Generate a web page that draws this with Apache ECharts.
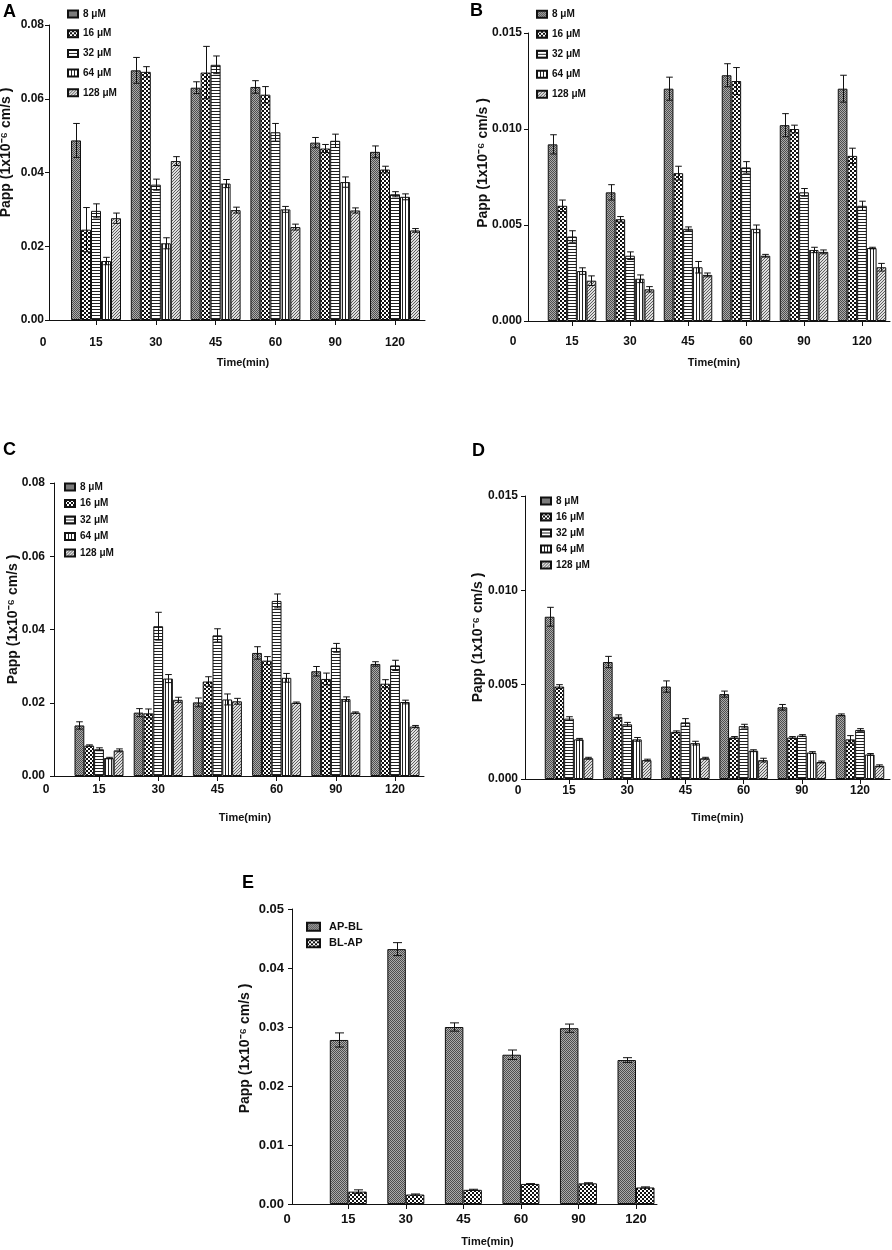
<!DOCTYPE html>
<html>
<head>
<meta charset="utf-8">
<title>Papp panels</title>
<script src="https://cdn.jsdelivr.net/npm/echarts@6/dist/echarts.min.js"></script>
<style>
  html, body { margin: 0; padding: 0; background: #fff; }
  #chart { width: 892px; height: 1250px; }
</style>
</head>
<body>
<div id="chart"></div>
<script>
// ---------------- data ----------------
var times = ['15', '30', '45', '60', '90', '120'];
var xTickLabels = ['0', '15', '30', '45', '60', '90', '120'];
var concNames = ['8 μM', '16 μM', '32 μM', '64 μM', '128 μM'];
var dirNames = ['AP-BL', 'BL-AP'];
var yNameText = 'Papp (1x10⁻⁶ cm/s )';
var xNameText = 'Time(min)';

// panel A : rows = 8,16,32,64,128 uM, columns = times
var meanA = [
  [0.0487, 0.0677, 0.0630, 0.0632, 0.0481, 0.0456],
  [0.0245, 0.0673, 0.0671, 0.0611, 0.0465, 0.0408],
  [0.0296, 0.0367, 0.0692, 0.0509, 0.0486, 0.0341],
  [0.0160, 0.0208, 0.0370, 0.0300, 0.0374, 0.0334],
  [0.0276, 0.0431, 0.0298, 0.0252, 0.0297, 0.0243]
];
var errA = [
  [0.0046, 0.0035, 0.0016, 0.0017, 0.0014, 0.0016],
  [0.0060, 0.0014, 0.0071, 0.0022, 0.0011, 0.0009],
  [0.0019, 0.0015, 0.0024, 0.0024, 0.0018, 0.0007],
  [0.0010, 0.0015, 0.0011, 0.0008, 0.0014, 0.0008],
  [0.0014, 0.0012, 0.0008, 0.0008, 0.0007, 0.0005]
];

// panel B
var meanB = [
  [0.0092, 0.0067, 0.0121, 0.0128, 0.0102, 0.0121],
  [0.0060, 0.0053, 0.0077, 0.0125, 0.0100, 0.0086],
  [0.0044, 0.0034, 0.0048, 0.0080, 0.0067, 0.0060],
  [0.0026, 0.0022, 0.0028, 0.0048, 0.0037, 0.0038],
  [0.0021, 0.00165, 0.0024, 0.0034, 0.0036, 0.0028]
];
var errB = [
  [0.0005, 0.0004, 0.0006, 0.0006, 0.0006, 0.0007],
  [0.0003, 0.00014, 0.00036, 0.0007, 0.0002, 0.0004],
  [0.0003, 0.0002, 0.0001, 0.0003, 0.0002, 0.00024],
  [0.00017, 0.0002, 0.0003, 0.0002, 0.00014, 0.00004],
  [0.00025, 0.00014, 0.0001, 0.00007, 0.0001, 0.0002]
];

// panel C
var meanC = [
  [0.0138, 0.0173, 0.0201, 0.0336, 0.0286, 0.0306],
  [0.0083, 0.0171, 0.0258, 0.0315, 0.0265, 0.0252],
  [0.0073, 0.0409, 0.0384, 0.0478, 0.0350, 0.0302],
  [0.0049, 0.0266, 0.0209, 0.0268, 0.0210, 0.0202],
  [0.0070, 0.0208, 0.0204, 0.0200, 0.0173, 0.0135]
];
var errC = [
  [0.0010, 0.0011, 0.0012, 0.0017, 0.0013, 0.0006],
  [0.0002, 0.0012, 0.0013, 0.0011, 0.0016, 0.0011],
  [0.0004, 0.0038, 0.0018, 0.0019, 0.0012, 0.0014],
  [0.0002, 0.0011, 0.0015, 0.0012, 0.0006, 0.0005],
  [0.0004, 0.0007, 0.0008, 0.0002, 0.0002, 0.0003]
];

// panel D
var meanD = [
  [0.0086, 0.0062, 0.0049, 0.0045, 0.0038, 0.0034],
  [0.0049, 0.0033, 0.0025, 0.0022, 0.0022, 0.0021],
  [0.0032, 0.0029, 0.0030, 0.0028, 0.0023, 0.0026],
  [0.0021, 0.0021, 0.0019, 0.0015, 0.0014, 0.0013],
  [0.0011, 0.0010, 0.0011, 0.0010, 0.0009, 0.0007]
];
var errD = [
  [0.0005, 0.0003, 0.0003, 0.00016, 0.00015, 0.00005],
  [0.0001, 0.0001, 0.00005, 0.00005, 0.00005, 0.0002],
  [0.0001, 0.0001, 0.0002, 0.0001, 0.00005, 0.00007],
  [0.00005, 0.0001, 0.0001, 0.00005, 0.00005, 0.00005],
  [0.00005, 0.00005, 0.00005, 0.0001, 0.00005, 0.00005]
];

// panel E : rows = AP-BL, BL-AP
var meanE = [
  [0.0278, 0.0432, 0.0300, 0.0253, 0.0298, 0.0244],
  [0.0021, 0.0016, 0.0024, 0.0034, 0.0035, 0.0028]
];
var errE = [
  [0.0012, 0.0011, 0.0007, 0.0008, 0.0007, 0.0004],
  [0.0003, 0.0001, 0.0001, 0.00005, 0.0001, 0.0001]
];

// ---------------- styles ----------------
var FONT = "'Liberation Sans', Arial, sans-serif";
var NARROW = "'Liberation Sans Narrow', 'Liberation Sans', Arial, sans-serif";
var INK = '#111';

var concPatterns = ['stipple', 'checker', 'hlines', 'vlines', 'diag'];
var dirPatterns = ['stipple', 'checker'];

// small repeated canvas tiles for the bar fills
function makePattern(kind) {
  var c = document.createElement('canvas');
  var ctx;
  if (kind === 'stipple') {
    c.width = 2; c.height = 2; ctx = c.getContext('2d');
    ctx.fillStyle = '#ababab'; ctx.fillRect(0, 0, 2, 2);
    ctx.fillStyle = '#4e4e4e'; ctx.fillRect(0, 0, 1, 1); ctx.fillRect(1, 1, 1, 1);
  } else if (kind === 'checker') {
    c.width = 4; c.height = 4; ctx = c.getContext('2d');
    ctx.fillStyle = '#fff'; ctx.fillRect(0, 0, 4, 4);
    ctx.fillStyle = '#111'; ctx.fillRect(0, 0, 2, 2); ctx.fillRect(2, 2, 2, 2);
  } else if (kind === 'hlines') {
    c.width = 3; c.height = 3; ctx = c.getContext('2d');
    ctx.fillStyle = '#fff'; ctx.fillRect(0, 0, 3, 3);
    ctx.fillStyle = '#222'; ctx.fillRect(0, 0, 3, 1);
  } else if (kind === 'vlines') {
    c.width = 3; c.height = 3; ctx = c.getContext('2d');
    ctx.fillStyle = '#fff'; ctx.fillRect(0, 0, 3, 3);
    ctx.fillStyle = '#222'; ctx.fillRect(0, 0, 1, 3);
  } else {
    c.width = 3; c.height = 3; ctx = c.getContext('2d');
    ctx.fillStyle = '#dedede'; ctx.fillRect(0, 0, 3, 3);
    ctx.fillStyle = '#5e5e5e';
    ctx.fillRect(0, 2, 1, 1); ctx.fillRect(1, 1, 1, 1); ctx.fillRect(2, 0, 1, 1);
  }
  return { image: c, repeat: 'repeat' };
}

// ---------------- layout of the five panels (pixels) ----------------
var panels = [
  { id: 'A', means: meanA, errs: errA, names: concNames, kinds: concPatterns,
    axisX: 49, firstTick: 96, tickStep: 59.8, right: 425, top: 25, bottom: 320,
    yMax: 0.08, yStep: 0.02, dec: 2, barW: 10, cap: 3.3,
    zeroShift: 6, xLabelMargin: 16, yLabelMargin: 5,
    xNameGap: 36, xNameShift: 6, yNameGap: 36, yNameShift: 20,
    letter: [3, 3], legend: [67, 7.5, 6.7], tickFont: 12, narrowLegend: true },
  { id: 'B', means: meanB, errs: errB, names: concNames, kinds: concPatterns,
    axisX: 528, firstTick: 572, tickStep: 58, right: 890, top: 33, bottom: 321,
    yMax: 0.015, yStep: 0.005, dec: 3, barW: 9.7, cap: 3.3,
    zeroShift: 15, xLabelMargin: 14, yLabelMargin: 6,
    xNameGap: 35, xNameShift: 5, yNameGap: 38, yNameShift: 14,
    letter: [470, 2], legend: [536, 7.8, 7], tickFont: 12, narrowLegend: true },
  { id: 'C', means: meanC, errs: errC, names: concNames, kinds: concPatterns,
    axisX: 54, firstTick: 99, tickStep: 59.2, right: 424, top: 483, bottom: 776,
    yMax: 0.08, yStep: 0.02, dec: 2, barW: 9.8, cap: 3.3,
    zeroShift: 8, xLabelMargin: 7, yLabelMargin: 9,
    xNameGap: 35, xNameShift: 6, yNameGap: 34, yNameShift: 10,
    letter: [3, 441], legend: [64, 480.5, 3.5], tickFont: 12, narrowLegend: true },
  { id: 'D', means: meanD, errs: errD, names: concNames, kinds: concPatterns,
    axisX: 525, firstTick: 569, tickStep: 58.2, right: 890, top: 496, bottom: 779,
    yMax: 0.015, yStep: 0.005, dec: 3, barW: 9.7, cap: 3.3,
    zeroShift: 7, xLabelMargin: 5, yLabelMargin: 7,
    xNameGap: 32, xNameShift: 10, yNameGap: 40, yNameShift: 0,
    letter: [472, 442], legend: [540, 494.5, 3], tickFont: 12, narrowLegend: true },
  { id: 'E', means: meanE, errs: errE, names: dirNames, kinds: dirPatterns,
    axisX: 292, firstTick: 348.3, tickStep: 57.54, right: 657, top: 909, bottom: 1204,
    yMax: 0.05, yStep: 0.01, dec: 2, barW: 18.5, cap: 4.5,
    zeroShift: 5, xLabelMargin: 8, yLabelMargin: 8,
    xNameGap: 31, xNameShift: 13, yNameGap: 40, yNameShift: 8,
    letter: [242, 874], legend: [306, 919.7, 2.6], tickFont: 13, narrowLegend: false }
];

/** error bar (mean +- err) drawn through the axes, shifted onto bar k of n */
function errorSeries(g, means, errs, k, n, barW, cap) {
  return {
    type: 'custom',
    xAxisIndex: g,
    yAxisIndex: g,
    silent: true,
    z: 4,
    encode: { x: 0, y: 1 },
    data: means.map(function (m, i) { return [i + 1, m, errs[i]]; }),
    renderItem: function (params, api) {
      var x = api.value(0), y = api.value(1), e = api.value(2);
      var hi = api.coord([x, y + e]);
      var lo = api.coord([x, y - e]);
      var cx = Math.round(hi[0] + (k - (n - 1) / 2) * barW) + 0.5;
      var st = { stroke: INK, lineWidth: 1 };
      return {
        type: 'group',
        children: [
          { type: 'line', shape: { x1: cx, y1: hi[1], x2: cx, y2: lo[1] }, style: st },
          { type: 'line', shape: { x1: cx - cap, y1: hi[1], x2: cx + cap, y2: hi[1] }, style: st },
          { type: 'line', shape: { x1: cx - cap, y1: lo[1], x2: cx + cap, y2: lo[1] }, style: st }
        ]
      };
    }
  };
}

var option = {
  animation: false,
  backgroundColor: '#fff',
  title: [], legend: [], grid: [], xAxis: [], yAxis: [], series: []
};

panels.forEach(function (p, g) {
  var xMin = 1 - (p.firstTick - p.axisX) / p.tickStep;
  var xMax = xMin + (p.right - p.axisX) / p.tickStep;
  var tickVals = times.map(function (t, i) { return i + 1; });

  option.title.push({
    text: p.id, left: p.letter[0], top: p.letter[1], padding: 0,
    textStyle: { fontSize: 18, fontWeight: 'bold', fontFamily: FONT, color: '#000' }
  });

  option.grid.push({
    left: p.axisX, top: p.top, width: p.right - p.axisX, height: p.bottom - p.top,
    containLabel: false, outerBoundsMode: 'none'
  });

  option.legend.push({
    data: p.names,
    orient: 'vertical',
    left: p.legend[0], top: p.legend[1], itemGap: p.legend[2],
    padding: 0,
    icon: 'rect',
    itemWidth: p.narrowLegend ? 10 : 13,
    itemHeight: p.narrowLegend ? 7 : 8,
    selectedMode: false,
    textStyle: {
      fontFamily: p.narrowLegend ? NARROW : FONT, fontWeight: 'bold',
      fontSize: p.narrowLegend ? 10 : 11,
      lineHeight: p.narrowLegend ? 13 : 14, color: INK,
      padding: p.narrowLegend ? 0 : [0, 0, 0, 4]
    }
  });

  option.xAxis.push({
    type: 'value', gridIndex: g, min: xMin, max: xMax,
    name: xNameText, nameLocation: 'middle', nameGap: p.xNameGap, nameMoveOverlap: false,
    nameTextStyle: {
      fontFamily: NARROW, fontWeight: 'bold', fontSize: 11, lineHeight: 14, color: INK,
      padding: [0, 0, 0, 2 * p.xNameShift]
    },
    axisLine: { show: true, lineStyle: { color: INK, width: 1 } },
    axisTick: { show: true, length: 5, customValues: tickVals, lineStyle: { color: INK } },
    axisLabel: {
      customValues: [xMin].concat(tickVals),
      showMinLabel: true,
      margin: p.xLabelMargin,
      fontFamily: FONT, fontWeight: 'bold', fontSize: p.tickFont, lineHeight: p.tickFont + 2, color: INK,
      formatter: function (v) {
        if (v < 0.9) return '{z|' + xTickLabels[0] + '}';
        return xTickLabels[Math.round(v)];
      },
      rich: { z: { padding: [0, 2 * p.zeroShift, 0, 0] } }
    },
    splitLine: { show: false }
  });

  option.yAxis.push({
    type: 'value', gridIndex: g, min: 0, max: p.yMax, interval: p.yStep,
    name: yNameText, nameLocation: 'middle', nameRotate: 90, nameGap: p.yNameGap, nameMoveOverlap: false,
    nameTextStyle: {
      fontFamily: FONT, fontWeight: 'bold', fontSize: 14, lineHeight: 14, color: INK,
      padding: p.yNameShift >= 0 ? [0, 0, 0, 2 * p.yNameShift] : [0, -2 * p.yNameShift, 0, 0]
    },
    axisLine: { show: true, lineStyle: { color: INK, width: 1 } },
    axisTick: { show: true, length: 4, lineStyle: { color: INK } },
    axisLabel: {
      margin: p.yLabelMargin, fontFamily: FONT, fontWeight: 'bold', fontSize: p.tickFont, color: INK,
      formatter: function (v) { return v.toFixed(p.dec); }
    },
    splitLine: { show: false }
  });

  // bars
  p.means.forEach(function (row, k) {
    option.series.push({
      type: 'bar',
      name: p.names[k],
      xAxisIndex: g,
      yAxisIndex: g,
      barWidth: p.barW,
      barGap: '0%',
      silent: true,
      z: 2,
      data: row.map(function (v, i) { return [i + 1, v]; }),
      itemStyle: { color: makePattern(p.kinds[k]), borderColor: INK, borderWidth: 1 }
    });
  });

  // error bars
  p.means.forEach(function (row, k) {
    option.series.push(errorSeries(g, row, p.errs[k], k, p.means.length, p.barW, p.cap));
  });
});

var chart = echarts.init(document.getElementById('chart'));
chart.setOption(option);
</script>
</body>
</html>
